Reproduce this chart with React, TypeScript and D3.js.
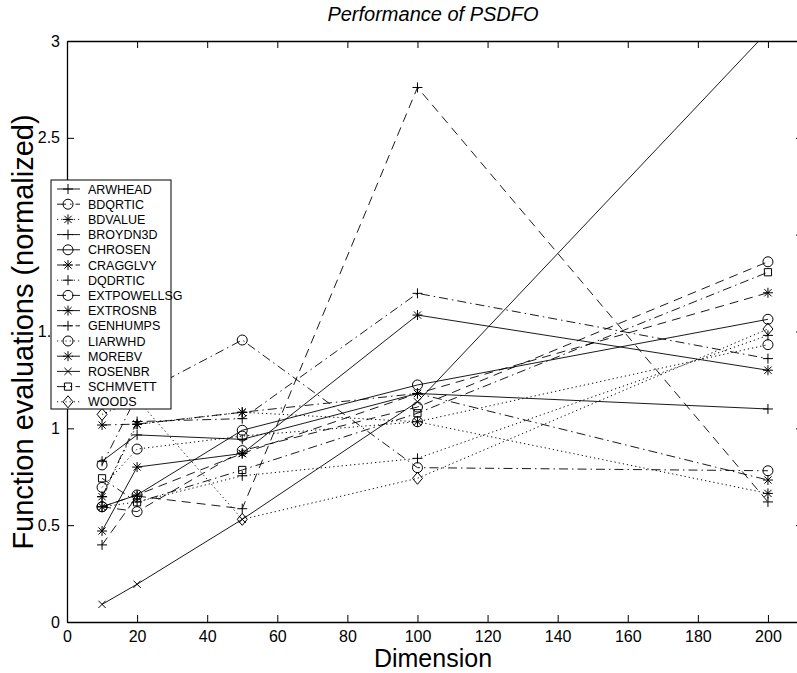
import React, { useEffect, useRef } from 'react';
import * as d3 from 'd3';

// problem dimensions (x) and normalized function evaluations (y)
const dims = [10, 20, 50, 100, 200];
const problems = [
  'ARWHEAD', 'BDQRTIC', 'BDVALUE', 'BROYDN3D', 'CHROSEN', 'CRAGGLVY', 'DQDRTIC',
  'EXTPOWELLSG', 'EXTROSNB', 'GENHUMPS', 'LIARWHD', 'MOREBV', 'ROSENBR', 'SCHMVETT', 'WOODS',
];
const arwhead = [0.83, 0.966, 0.943, 1.18, 1.10];
const bdqrtic = [0.811, 1.17, 1.456, 0.797, 0.781];
const bdvalue = [0.647, 1.02, 1.083, 1.034, 0.664];
const broydn3d = [0.398, 0.65, 0.585, 2.76, 0.62];
const chrosen = [0.595, 0.656, 0.99, 1.224, 1.563];
const cragglvy = [1.017, 1.022, 1.083, 1.18, 0.733];
const dqdrtic = [0.595, 0.62, 0.755, 0.845, 1.48];
const extpowellsg = [0.595, 0.57, 0.885, 1.11, 1.86];
const extrosnb = [0.47, 0.80, 0.87, 1.585, 1.30];
const genhumps = [0.647, 1.035, 1.05, 1.697, 1.36];
const liarwhd = [0.695, 0.893, 0.96, 1.034, 1.432];
const morebv = [0.595, 0.656, 0.87, 1.18, 1.70];
const rosenbr = [0.091, 0.195, 0.53, 1.137, 3.05];
const schmvett = [0.742, 0.618, 0.785, 1.078, 1.806];
const woods = [1.072, 1.15, 0.53, 0.742, 1.513];
const allValues = [arwhead, bdqrtic, bdvalue, broydn3d, chrosen, cragglvy, dqdrtic,
  extpowellsg, extrosnb, genhumps, liarwhd, morebv, rosenbr, schmvett, woods];

const xTicks = [0, 20, 40, 60, 80, 100, 120, 140, 160, 180, 200];
const yTicks = [0, 0.5, 1, 1.5, 2, 2.5, 3];

// matlab style cycling: line style x4, marker x3
const dashes: Record<string, string | null> = {
  '-': null,
  '-.': '9,4,1.5,4',
  ':': '1.2,3',
  '--': '9,6',
};
const lineOrder = ['-', '-.', ':', '--'];
const markerOrder = ['+', 'o', '*', '+', 'o', '*', '+', 'o', '*', '+', 'o', '*', 'x', 's', 'd'];

function markerPath(m: string, r: number) {
  const k = r * 0.72;
  switch (m) {
    case '+': return `M${-r},0H${r}M0,${-r}V${r}`;
    case 'x': return `M${-k},${-k}L${k},${k}M${-k},${k}L${k},${-k}`;
    case '*': return `M${-r},0H${r}M0,${-r}V${r}M${-k},${-k}L${k},${k}M${-k},${k}L${k},${-k}`;
    case 's': return `M${-k},${-k}H${k}V${k}H${-k}Z`;
    case 'd': return `M0,${-r * 1.2}L${r},0L0,${r * 1.2}L${-r},0Z`;
    default: return '';
  }
}

function drawMarker(g: any, m: string, x: number, y: number) {
  if (m === 'o') {
    g.append('circle').attr('cx', x).attr('cy', y).attr('r', 5)
      .attr('fill', 'none').attr('stroke', '#000').attr('stroke-width', 1);
  } else {
    g.append('path').attr('d', markerPath(m, 5)).attr('transform', `translate(${x},${y})`)
      .attr('fill', 'none').attr('stroke', '#000').attr('stroke-width', 1);
  }
}

export default function App() {
  const ref = useRef<SVGSVGElement>(null);

  useEffect(() => {
    const width = 797;
    const height = 673;
    const left = 67, right = 803, top = 41, bottom = 622;
    const font = 'Liberation Sans, Arial, Helvetica, sans-serif';

    const svg = d3.select(ref.current);
    svg.selectAll('*').remove();
    svg.attr('width', width).attr('height', height);

    const x = d3.scaleLinear().domain([0, 210]).range([left, right]);
    const y = d3.scaleLinear().domain([0, 3]).range([bottom, top]);

    svg.append('defs').append('clipPath').attr('id', 'plot-clip')
      .append('rect').attr('x', left).attr('y', top)
      .attr('width', right - left).attr('height', bottom - top);

    // axes (inside ticks, box)
    const xAxis = svg.append('g').attr('transform', `translate(0,${bottom})`)
      .call(d3.axisBottom(x).tickValues(xTicks).tickSizeInner(-7).tickSizeOuter(0).tickPadding(9));
    const xTop = svg.append('g').attr('transform', `translate(0,${top})`)
      .call(d3.axisTop(x).tickValues(xTicks).tickSizeInner(-7).tickSizeOuter(0).tickFormat(() => ''));
    const yAxis = svg.append('g').attr('transform', `translate(${left},0)`)
      .call(d3.axisLeft(y).tickValues(yTicks).tickSizeInner(-7).tickSizeOuter(0).tickPadding(7)
        .tickFormat((d: any) => String(d)));
    const yRight = svg.append('g').attr('transform', `translate(${right},0)`)
      .call(d3.axisRight(y).tickValues(yTicks).tickSizeInner(-7).tickSizeOuter(0).tickFormat(() => ''));
    [xAxis, xTop, yAxis, yRight].forEach((a) => {
      a.select('.domain').attr('stroke', '#000').attr('stroke-width', 1.3);
      a.selectAll('line').attr('stroke', '#000');
      a.selectAll('text').attr('font-family', font).attr('font-size', 16).attr('fill', '#000');
    });

    // series
    const plot = svg.append('g').attr('clip-path', 'url(#plot-clip)');
    const line = d3.line<number>().x((_, i) => x(dims[i])).y((d) => y(d));
    allValues.forEach((vals, i) => {
      const style = lineOrder[i % 4];
      plot.append('path').attr('d', line(vals)).attr('fill', 'none')
        .attr('stroke', '#000').attr('stroke-width', style === ':' ? 1 : 0.9)
        .attr('stroke-dasharray', dashes[style]);
      vals.forEach((v, j) => drawMarker(plot, markerOrder[i], x(dims[j]), y(v)));
    });

    // title and labels
    svg.append('text').attr('x', 433).attr('y', 21).attr('text-anchor', 'middle')
      .attr('font-family', font).attr('font-style', 'italic').attr('font-size', 20)
      .text('Performance of PSDFO');
    svg.append('text').attr('x', 433).attr('y', 667).attr('text-anchor', 'middle')
      .attr('font-family', font).attr('font-size', 25).text('Dimension');
    svg.append('text').attr('transform', `translate(33,332) rotate(-90)`)
      .attr('text-anchor', 'middle').attr('font-family', font).attr('font-size', 29)
      .text('Function evaluations (normalized)');

    // legend
    const lg = svg.append('g');
    const lx = 51, ly = 180, rowH = 15.2;
    lg.append('rect').attr('x', lx).attr('y', ly).attr('width', 120).attr('height', 229)
      .attr('fill', '#fff').attr('stroke', '#000').attr('stroke-width', 1);
    problems.forEach((name, i) => {
      const cy = ly + 9 + i * rowH;
      const style = lineOrder[i % 4];
      lg.append('line').attr('x1', lx + 6).attr('x2', lx + 29).attr('y1', cy).attr('y2', cy)
        .attr('stroke', '#000').attr('stroke-width', 0.9).attr('stroke-dasharray', dashes[style]);
      drawMarker(lg, markerOrder[i], lx + 17, cy);
      lg.append('text').attr('x', lx + 37).attr('y', cy + 4.5)
        .attr('font-family', font).attr('font-size', 12.5).text(name);
    });
  }, []);

  return (
    <svg ref={ref} style={{ position: 'absolute', left: 0, top: 0, background: '#fff' }} />
  );
}
